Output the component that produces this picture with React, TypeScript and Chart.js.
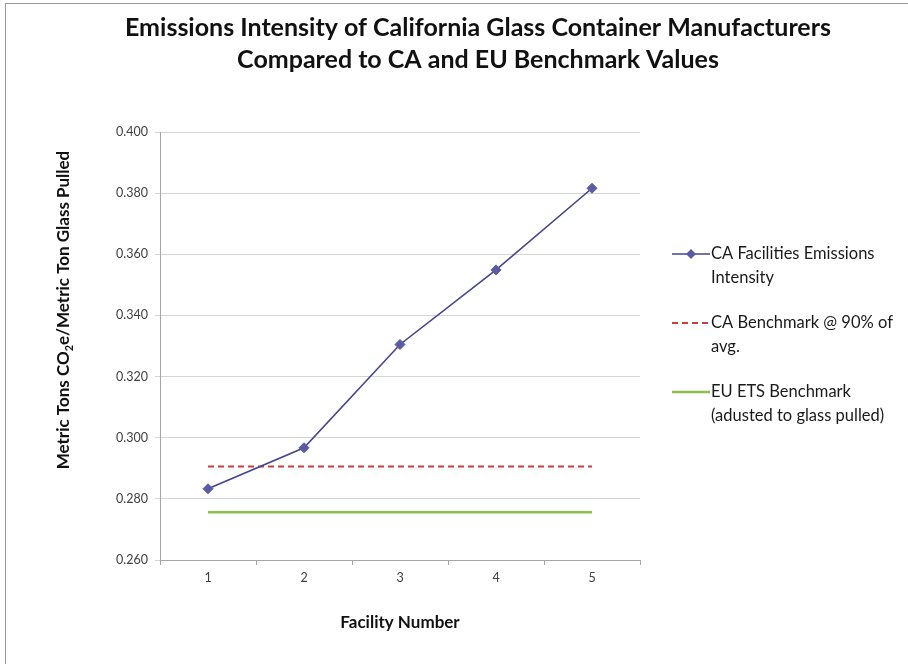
import React, { useEffect, useRef } from "react";
import { Chart, registerables } from "chart.js";

Chart.register(...registerables);

const facilities = ["1", "2", "3", "4", "5"];
const caIntensity = [0.2833, 0.2967, 0.3305, 0.3549, 0.3816];
const caBenchmark = [0.2906, 0.2906, 0.2906, 0.2906, 0.2906];
const euBenchmark = [0.2756, 0.2756, 0.2756, 0.2756, 0.2756];

const seriesLabels = [
  "CA Facilities Emissions Intensity",
  "CA Benchmark @ 90% of avg.",
  "EU ETS Benchmark (adusted to glass pulled)",
];
const legendLines = [
  ["CA Facilities Emissions", "Intensity"],
  ["CA Benchmark @ 90% of", "avg."],
  ["EU ETS Benchmark", "(adusted to glass pulled)"],
];
const titleLines = [
  "Emissions Intensity of California Glass Container Manufacturers",
  "Compared to CA and EU Benchmark Values",
];
const xTitle = "Facility Number";
const yTitleParts = ["Metric Tons CO", "2", "e/Metric Ton Glass Pulled"];
const yMin = 0.26;
const yMax = 0.4;
const yStep = 0.02;

const FONT = "Lato, 'Open Sans', sans-serif";

const drawDiamond = (ctx: CanvasRenderingContext2D, x: number, y: number, r: number, color: string) => {
  ctx.beginPath();
  ctx.moveTo(x, y - r);
  ctx.lineTo(x + r, y);
  ctx.lineTo(x, y + r);
  ctx.lineTo(x - r, y);
  ctx.closePath();
  ctx.fillStyle = color;
  ctx.fill();
};

const sidePlugin = {
  id: "sideLegendAndYTitle",
  afterDraw(chart: any) {
    const ctx: CanvasRenderingContext2D = chart.ctx;
    const ca = chart.chartArea;
    // legend
    const x0 = ca.right + 32;
    const lineW = 38;
    const textX = x0 + lineW + 1;
    let y = ca.top + 122;
    chart.data.datasets.forEach((ds: any, i: number) => {
      ctx.save();
      ctx.strokeStyle = ds.borderColor;
      ctx.lineWidth = ds.borderWidth;
      ctx.setLineDash(ds.borderDash || []);
      ctx.beginPath();
      ctx.moveTo(x0, y);
      ctx.lineTo(x0 + lineW, y);
      ctx.stroke();
      ctx.setLineDash([]);
      if (ds.pointRadius > 0) drawDiamond(ctx, x0 + lineW / 2, y, ds.pointRadius, ds.pointBackgroundColor);
      ctx.fillStyle = "#1a1a1a";
      ctx.font = `16.5px ${FONT}`;
      ctx.textBaseline = "middle";
      ctx.textAlign = "left";
      legendLines[i].forEach((t, j) => ctx.fillText(t, textX, y + j * 24));
      ctx.restore();
      y += 69;
    });
    // y axis title with subscript
    ctx.save();
    ctx.translate(64, ca.top + 178);
    ctx.rotate(-Math.PI / 2);
    ctx.fillStyle = "#111";
    ctx.textBaseline = "middle";
    ctx.textAlign = "left";
    const big = `bold 17px ${FONT}`;
    const small = `bold 11px ${FONT}`;
    ctx.font = big;
    const w0 = ctx.measureText(yTitleParts[0]).width;
    const w2 = ctx.measureText(yTitleParts[2]).width;
    ctx.font = small;
    const w1 = ctx.measureText(yTitleParts[1]).width;
    let x = -(w0 + w1 + w2) / 2;
    ctx.font = big;
    ctx.fillText(yTitleParts[0], x, 0);
    x += w0;
    ctx.font = small;
    ctx.fillText(yTitleParts[1], x, 5);
    x += w1;
    ctx.font = big;
    ctx.fillText(yTitleParts[2], x, 0);
    ctx.restore();
  },
};

export default function App() {
  const ref = useRef<HTMLCanvasElement>(null);
  useEffect(() => {
    if (!ref.current) return;
    const chart = new Chart(ref.current, {
      type: "line",
      data: {
        labels: facilities,
        datasets: [
          {
            label: seriesLabels[0],
            data: caIntensity,
            borderColor: "#44448f",
            borderWidth: 1.6,
            pointStyle: "rectRot",
            pointRadius: 5,
            pointBackgroundColor: "#5b5ba3",
            pointBorderColor: "#5b5ba3",
            pointBorderWidth: 1,
            tension: 0,
          },
          {
            label: seriesLabels[1],
            data: caBenchmark,
            borderColor: "#c8403c",
            borderWidth: 2,
            borderDash: [6, 4],
            pointRadius: 0,
            tension: 0,
          },
          {
            label: seriesLabels[2],
            data: euBenchmark,
            borderColor: "#8cc04a",
            borderWidth: 2.5,
            pointRadius: 0,
            tension: 0,
          },
        ],
      },
      options: {
        responsive: false,
        animation: false,
        events: [],
        layout: { padding: { left: 48, right: 0, top: 0, bottom: 0 } },
        plugins: {
          legend: { display: false },
          tooltip: { enabled: false },
          title: {
            display: true,
            text: titleLines,
            color: "#111",
            font: { family: FONT, size: 25, weight: "bold", lineHeight: 1.28 },
            padding: { top: 12, bottom: 56 },
          },
        },
        scales: {
          x: {
            type: "category",
            offset: true,
            grid: {
              display: true,
              drawOnChartArea: false,
              drawTicks: true,
              tickLength: 5,
              offset: true,
              color: "#a6a6a6",
            },
            border: { color: "#a6a6a6" },
            ticks: { font: { family: FONT, size: 12.5 }, color: "#404040", padding: 5 },
            title: {
              display: true,
              text: xTitle,
              color: "#111",
              font: { family: FONT, size: 17, weight: "bold" },
              padding: { top: 0, bottom: 31 },
            },
            afterFit: (s: any) => {
              s.height = 104;
            },
          },
          y: {
            min: yMin,
            max: yMax,
            grid: { color: "#d4d4d4", tickLength: 5, drawTicks: true },
            border: { color: "#a6a6a6" },
            ticks: {
              stepSize: yStep,
              font: { family: FONT, size: 12.5 },
              color: "#404040",
              padding: 7,
              callback: (v: any) => Number(v).toFixed(3),
            },
            afterFit: (s: any) => {
              s.width = 112;
            },
          },
          legendSpace: {
            type: "linear",
            position: "right",
            display: true,
            grid: { display: false, drawTicks: false },
            border: { display: false },
            ticks: { display: false },
            afterFit: (s: any) => {
              s.width = 268;
            },
          },
        },
      },
      plugins: [sidePlugin],
    });
    return () => chart.destroy();
  }, []);
  return (
    <div
      style={{
        position: "absolute",
        left: 0,
        top: 0,
        width: 908,
        height: 664,
        overflow: "hidden",
        background: "#fff",
      }}
    >
      <div
        style={{
          position: "absolute",
          left: 5,
          top: 3,
          width: 920,
          height: 680,
          border: "1px solid #9a9a9a",
        }}
      />
      <canvas ref={ref} width={908} height={664} style={{ position: "absolute", left: 0, top: 0 }} />
    </div>
  );
}
